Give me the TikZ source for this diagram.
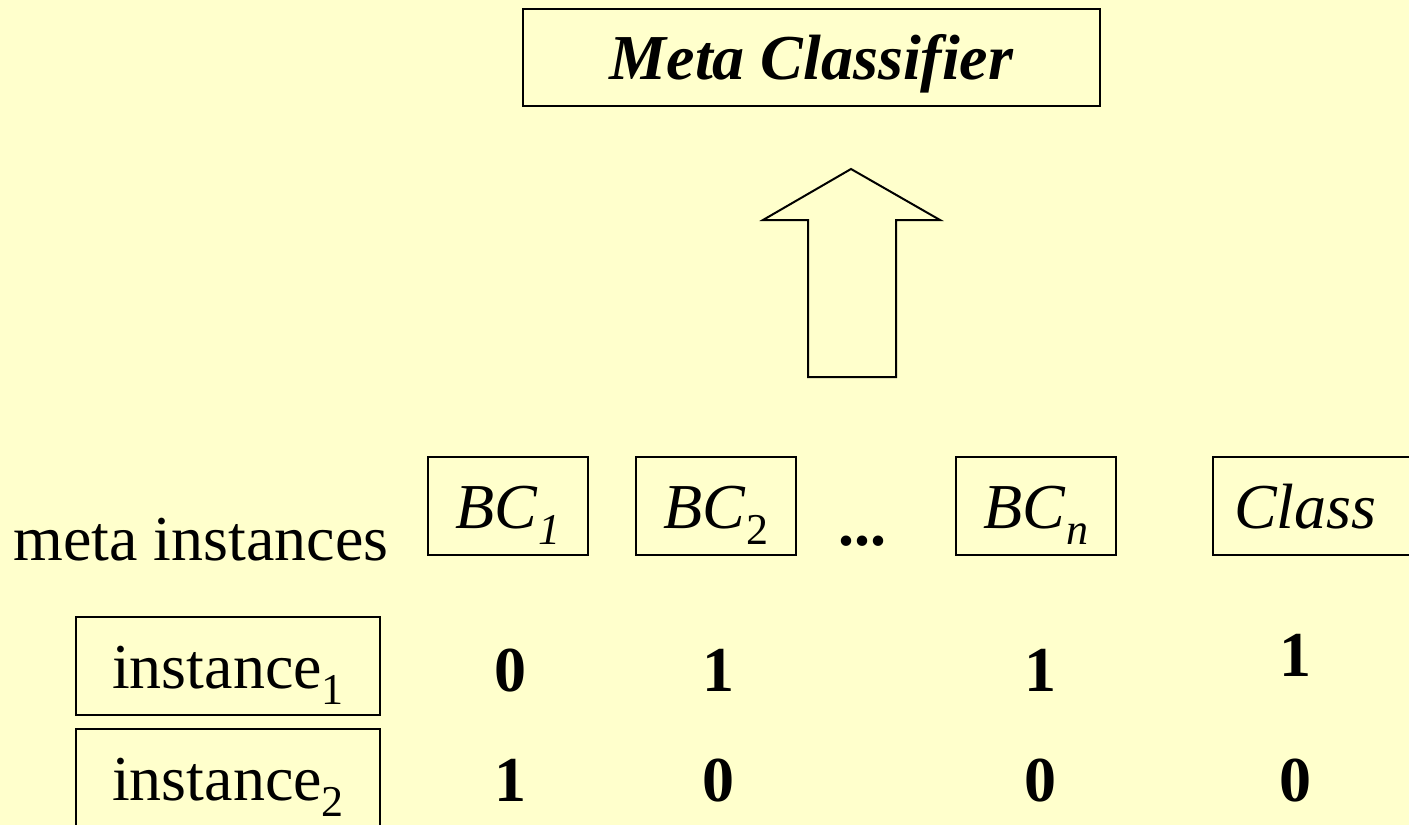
\documentclass[tikz,border=0pt]{standalone}
\usepackage{fontspec}
\setmainfont{Liberation Serif}
\usepackage{tikz}
\usepackage{xcolor}
\definecolor{slideyellow}{RGB}{255,255,204}
\newcommand{\lowsub}[1]{\raisebox{-8pt}{\fontsize{22pt}{24pt}\selectfont #1}}

\begin{document}
\begin{tikzpicture}[x=0.5pt, y=-0.5pt, font=\fontsize{32pt}{38pt}\selectfont]
    % Define styles
    \tikzstyle{box} = [rectangle, draw=black, line width=1pt, inner sep=0pt, text centered, text height=24pt, text depth=2pt]
    \tikzstyle{bcbox} = [box, minimum width=80pt, minimum height=49pt]
    \tikzstyle{instbox} = [box, minimum width=152pt, minimum height=49pt]
    \tikzstyle{bit} = [anchor=base, font=\fontsize{32pt}{38pt}\selectfont\bfseries]
    \tikzstyle{bigarrow} = [draw=black, line width=1pt, line join=miter]

    % Page
    \clip (0,0) rectangle (1409,825);
    \fill[slideyellow] (0,0) rectangle (1409,825);

    % Nodes
    \node (meta) [box, minimum width=288.5pt, minimum height=48.5pt, font=\fontsize{32pt}{38pt}\selectfont\bfseries\itshape] at (811.5,57.5) {Meta Classifier};
    \node (bc1) [bcbox] at (508,506) {\textit{BC}\lowsub{\textit{1}}};
    \node (bc2) [bcbox] at (716,506) {\textit{BC}\lowsub{2}};
    \node (dots) [bit] at (862,545) {...};
    \node (bcn) [bcbox] at (1036,506) {\textit{BC}\lowsub{\textit{n}}};
    \node (class) [box, anchor=west, minimum height=49pt, inner xsep=10.5pt, text width=93pt, align=left] at (1212,506) {\textit{Class}};
    \node (metalabel) [anchor=base] at (201,560) {meta instances};

    \node (inst1) [instbox] at (228,666) {instance\lowsub{1}};
    \node (inst2) [instbox] at (228,778) {instance\lowsub{2}};

    % Values
    \node (v11) [bit] at (510,691) {0};
    \node (v12) [bit] at (718,691) {1};
    \node (v1n) [bit] at (1040,691) {1};
    \node (v1c) [bit] at (1295,676) {1};
    \node (v21) [bit] at (510,801) {1};
    \node (v22) [bit] at (718,801) {0};
    \node (v2n) [bit] at (1040,801) {0};
    \node (v2c) [bit] at (1295,801) {0};

    % Block arrow
    \coordinate (tip) at (851,169);
    \draw [bigarrow] (808,377) -- (808,220) -- (763,220) -- (tip) -- (940,220) -- (896,220) -- (896,377) -- cycle;
\end{tikzpicture}
\end{document}
